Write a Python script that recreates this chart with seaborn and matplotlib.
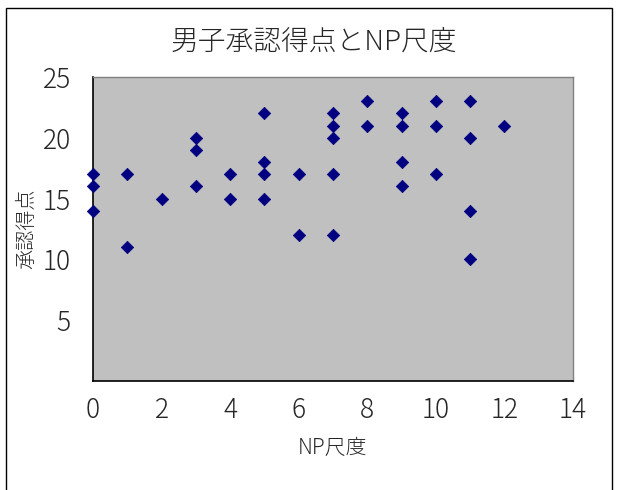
import matplotlib
matplotlib.use("Agg")
import matplotlib.pyplot as plt
import seaborn as sns
import pandas as pd
from matplotlib.patches import Rectangle

np_scale = [0, 0, 0, 1, 1, 2, 3, 3, 3, 4, 4, 5, 5, 5, 5, 6, 6,
            7, 7, 7, 7, 7, 8, 8, 9, 9, 9, 9, 10, 10, 10, 11, 11, 11, 11, 12]
approval = [17, 16, 14, 17, 11, 15, 20, 19, 16, 17, 15, 22, 18, 17, 15, 17, 12,
            22, 21, 20, 17, 12, 23, 21, 22, 21, 18, 16, 23, 21, 17, 23, 20, 14, 10, 21]
x_ticks = [0, 2, 4, 6, 8, 10, 12, 14]
y_ticks = [5, 10, 15, 20, 25]

title = "男子承認得点とNP尺度"
x_label = "NP尺度"
y_label = "承認得点"

df = pd.DataFrame({"x": np_scale, "y": approval})

sns.set_style("white")
plt.rcParams["font.family"] = ["Noto Sans CJK JP", "DejaVu Sans"]

fig = plt.figure(figsize=(6.17, 4.9), dpi=100)
ax = fig.add_axes([93 / 617, 1 - 381 / 490, (573 - 93) / 617, (381 - 77) / 490])

ax.set_facecolor("#C0C0C0")
sns.scatterplot(data=df, x="x", y="y", marker="D", s=40, color="#000080",
                edgecolor="#000080", linewidth=0.5, ax=ax, zorder=3, clip_on=False)

ax.set_xlim(0, 14)
ax.set_ylim(0, 25)
ax.set_xticks(x_ticks)
ax.set_yticks(y_ticks)
ax.set_xticklabels([str(v) for v in x_ticks], fontsize=19, fontweight="light")
ax.set_yticklabels([str(v) for v in y_ticks], fontsize=19, fontweight="light")
ax.tick_params(axis="x", direction="in", length=6, width=1, pad=11, color="black")
ax.tick_params(axis="y", direction="in", length=6, width=1, pad=16, color="black")

for s in ["left", "bottom"]:
    ax.spines[s].set_color("black")
    ax.spines[s].set_linewidth(1.2)
for s in ["top", "right"]:
    ax.spines[s].set_color("#808080")
    ax.spines[s].set_linewidth(1)

ax.set_xlabel(x_label, fontsize=15, fontweight="light", labelpad=9)
ax.set_ylabel(y_label, fontsize=14.5, fontweight="light", labelpad=4)
fig.text(314 / 617, 1 - 42 / 490, title, fontsize=20, fontweight="light",
         ha="center", va="center")

fig.patches.append(Rectangle((6 / 617, -0.1), (612 - 6) / 617, 1.1 - 8 / 490,
                             transform=fig.transFigure, fill=False,
                             edgecolor="black", linewidth=1))

fig.savefig("out.png", dpi=100)
